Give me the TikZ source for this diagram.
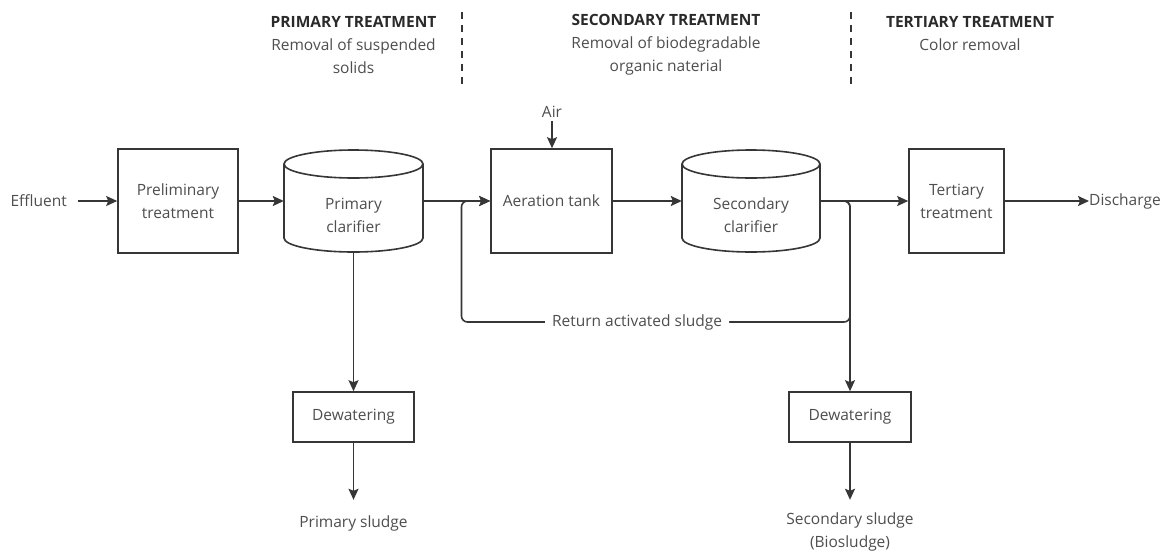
\documentclass[tikz,border=0pt]{standalone}
\usepackage{fontspec}
\setmainfont{Open Sans}
\usetikzlibrary{arrows.meta}
\definecolor{ink}{HTML}{363636}
\definecolor{txt}{HTML}{4E4E4E}
\definecolor{headtxt}{HTML}{2A2A2A}

\begin{document}
\begin{tikzpicture}[x=1pt,y=-1pt,
  every node/.style={font=\fontsize{15.5}{23}\selectfont, text=txt},
  box/.style={draw=ink, line width=1.6pt, fill=white, align=center, inner sep=0pt},
  tank/.style={draw=ink, line width=1.6pt, fill=white},
  label/.style={align=center, inner sep=0pt},
  flow/.style={draw=ink, line width=1.6pt, -{Stealth[length=11pt,width=10pt,inset=2pt]}},
  divider/.style={draw=ink, line width=1.3pt, dash pattern=on 7pt off 6pt},
]
\useasboundingbox (0,0) rectangle (1172,552);

% stage headings and separators
\node[label] (h1) at (353.5,45) {\textcolor{headtxt}{\bfseries PRIMARY TREATMENT}\\Removal of suspended\\solids};
\node[label] (h2) at (666,45) {\textcolor{headtxt}{\bfseries SECONDARY TREATMENT}\\Removal of biodegradable\\organic naterial};
\node[label] (h3) at (970,34) {\textcolor{headtxt}{\bfseries TERTIARY TREATMENT}\\Color removal};
\draw[divider] (462,12) -- (462,85);
\draw[divider] (851,12) -- (851,85);

% clarifier tanks drawn as cylinders
\draw[tank] (284,164) -- (284,238) arc[start angle=180,end angle=0,x radius=69.5,y radius=14]
  -- (423,164) arc[start angle=0,end angle=-180,x radius=69.5,y radius=14] -- cycle;
\draw[tank] (284,164) arc[start angle=180,end angle=0,x radius=69.5,y radius=14];
\node[inner sep=0, minimum width=139pt, minimum height=102pt] (pc) at (353.5,201) {};
\node[label] (pct) at (353.5,215) {Primary\\clarifier};

\draw[tank] (682,164) -- (682,238) arc[start angle=180,end angle=0,x radius=69,y radius=14]
  -- (820,164) arc[start angle=0,end angle=-180,x radius=69,y radius=14] -- cycle;
\draw[tank] (682,164) arc[start angle=180,end angle=0,x radius=69,y radius=14];
\node[inner sep=0, minimum width=138pt, minimum height=102pt] (sc) at (751,201) {};
\node[label] (sct) at (751,215) {Secondary\\clarifier};

% process boxes
\node[box, minimum width=120pt, minimum height=104pt] (pre) at (178,201) {Preliminary\\treatment};
\node[box, minimum width=121pt, minimum height=104pt] (aer) at (551.5,201) {Aeration tank};
\node[box, minimum width=95pt, minimum height=104pt] (ter) at (956.5,201) {Tertiary\\treatment};
\node[box, minimum width=121pt, minimum height=50pt] (dw1) at (353.5,417) {Dewatering};
\node[box, minimum width=122pt, minimum height=50pt] (dw2) at (850,417) {Dewatering};

% inlet, outlet and sludge labels
\node[label, anchor=east] (eff) at (67,201) {Effluent};
\node[label, anchor=west] (dis) at (1089,201) {Discharge};
\node[label] (air) at (552,112) {Air};
\node[label] (ps) at (353.5,523) {Primary sludge};
\node[label] (ss) at (850,531.5) {Secondary sludge\\(Biosludge)};

% junctions of the sludge return line
\coordinate (split) at (850,201);
\coordinate (rb) at (850,322);
\coordinate (lb) at (461.5,322);
\coordinate (lj) at (461.5,201);

% main flow
\draw[flow] ([xshift=11pt]eff.east) -- (pre.west);
\draw[flow] (pre.east) -- (pc.west);
\draw[flow] (pc.east) -- (aer.west);
\draw[flow] ([yshift=-3pt]air.south) -- (air.south |- aer.north);
\draw[flow] (aer.east) -- (sc.west);
\draw[flow] (sc.east) -- (ter.west);
\draw[flow] (ter.east) -- (dis.west);

% sludge lines
\draw[flow] (pc.south) -- (dw1.north);
\draw[flow] (dw1.south) -- ++(0,57);
\draw[flow, rounded corners=6pt] (sc.east) -- (split) -- (dw2.north);
\draw[flow, rounded corners=6pt] (sc.east) -- (split) -- (rb)
  -- node[pos=0.548, fill=white, inner xsep=7pt, inner ysep=2pt] (ras) {Return activated sludge} (lb)
  -- (lj) -- (aer.west);
\draw[flow] (dw2.south) -- ++(0,57);
\end{tikzpicture}
\end{document}
